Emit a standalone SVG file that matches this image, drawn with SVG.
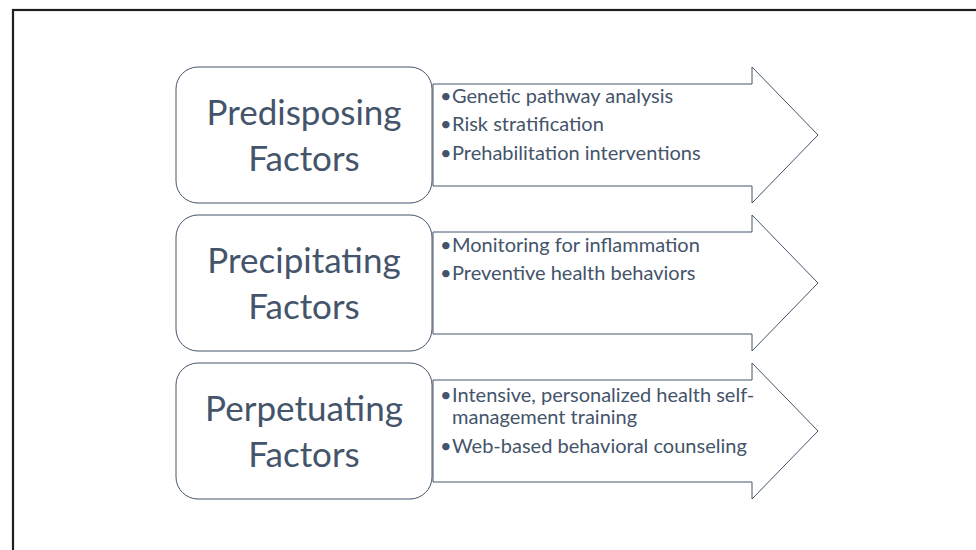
<svg xmlns="http://www.w3.org/2000/svg" width="976" height="550" viewBox="0 0 976 550">
<style>
.frame{fill:none;stroke:#1e1e1e;stroke-width:2.2}
.arrow{fill:#fff;stroke:#44546A;stroke-width:1}
.box{fill:#fff;stroke:#44546A;stroke-width:1}
.title{font-family:Lato,"Liberation Sans",sans-serif;font-size:35px;fill:#44546A;text-anchor:middle}
.item{font-family:Lato,"Liberation Sans",sans-serif;font-size:20px;fill:#44546A}
</style>
<rect class="frame" x="13" y="10" width="1000" height="600"/>
<g id="connectors"/>
<g id="node-predisposing">
<polygon class="arrow" points="433,84 752,84 752,67 818,135 752,203 752,186 433,186"/>
<rect class="box" x="176" y="67" width="256" height="136" rx="22" ry="22"/>
<text class="title" x="304" y="125">Predisposing</text>
<text class="title" x="304" y="171">Factors</text>
<text class="item"><tspan x="440" y="103">•</tspan><tspan x="452" y="103">Genetic pathway analysis</tspan></text>
<text class="item"><tspan x="440" y="131">•</tspan><tspan x="452" y="131">Risk stratification</tspan></text>
<text class="item"><tspan x="440" y="160">•</tspan><tspan x="452" y="160">Prehabilitation interventions</tspan></text>
</g>
<g id="node-precipitating">
<polygon class="arrow" points="433,232 752,232 752,215 818,283 752,351 752,334 433,334"/>
<rect class="box" x="176" y="215" width="256" height="136" rx="22" ry="22"/>
<text class="title" x="304" y="273">Precipitating</text>
<text class="title" x="304" y="319">Factors</text>
<text class="item"><tspan x="440" y="252">•</tspan><tspan x="452" y="252">Monitoring for inflammation</tspan></text>
<text class="item"><tspan x="440" y="280">•</tspan><tspan x="452" y="280">Preventive health behaviors</tspan></text>
</g>
<g id="node-perpetuating">
<polygon class="arrow" points="433,380 752,380 752,363 818,431 752,499 752,482 433,482"/>
<rect class="box" x="176" y="363" width="256" height="136" rx="22" ry="22"/>
<text class="title" x="304" y="421">Perpetuating</text>
<text class="title" x="304" y="467">Factors</text>
<text class="item"><tspan x="440" y="402">•</tspan><tspan x="452" y="402">Intensive, personalized health self-</tspan></text>
<text class="item"><tspan x="452" y="424">management training</tspan></text>
<text class="item"><tspan x="440" y="453">•</tspan><tspan x="452" y="453">Web-based behavioral counseling</tspan></text>
</g>
</svg>
